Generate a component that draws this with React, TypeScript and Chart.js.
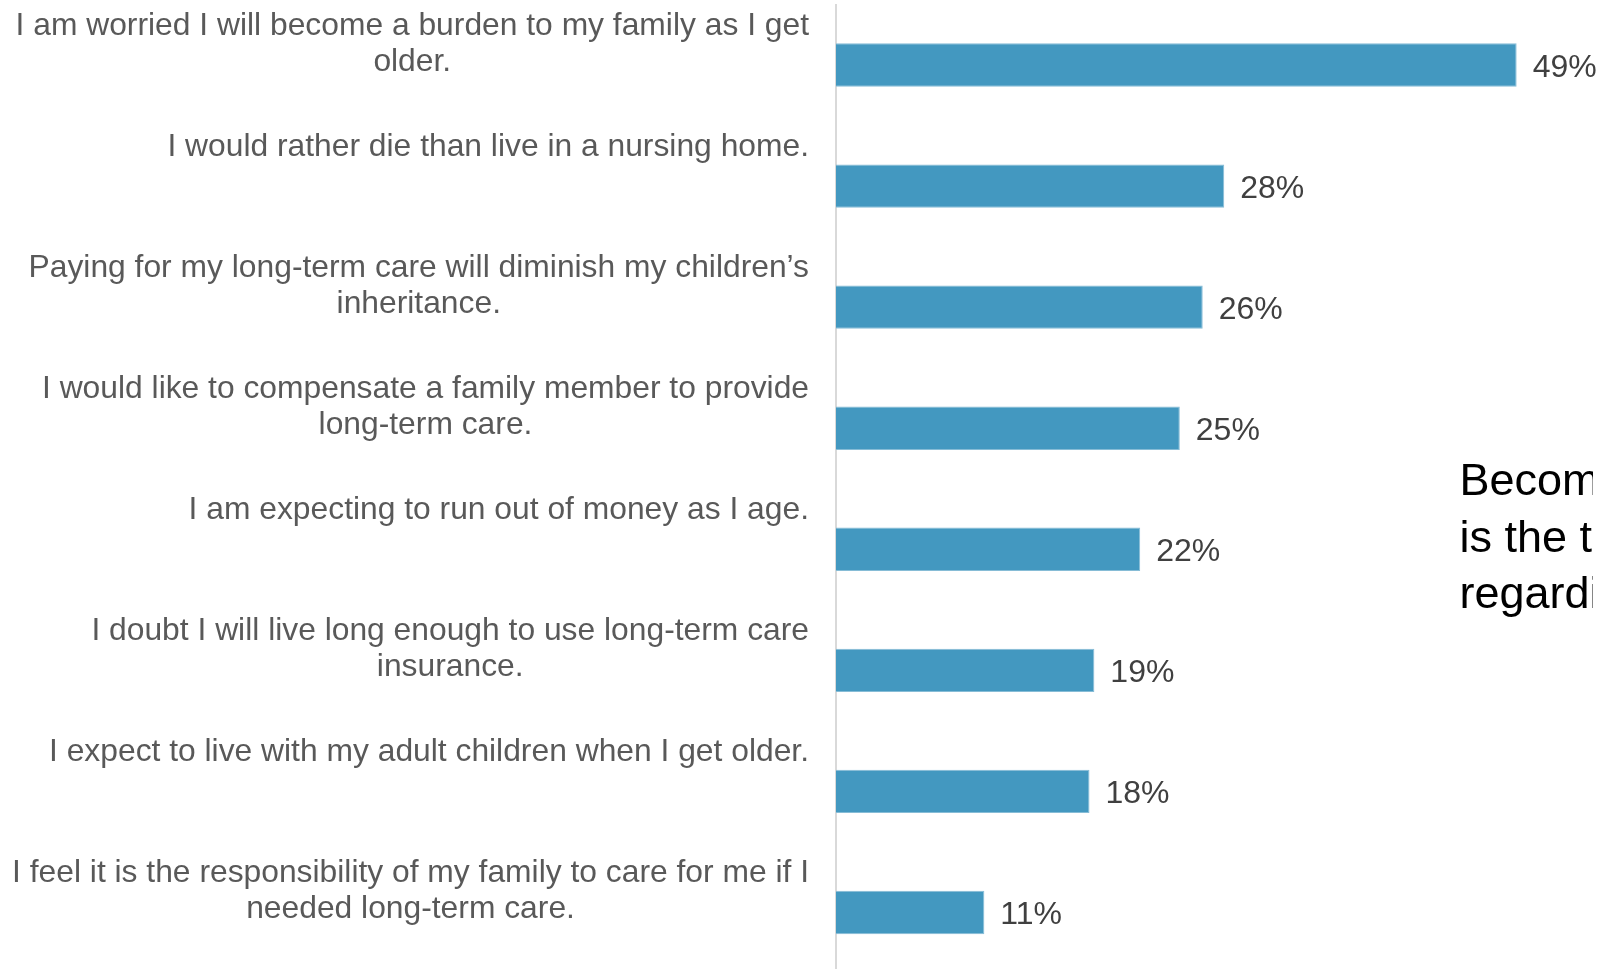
import React, { useEffect, useRef } from "react";
import { Chart, registerables } from "chart.js";

Chart.register(...registerables);

const categories: string[][] = [
  ["I am worried I will become a burden to my family as I get", "older."],
  ["I would rather die than live in a nursing home."],
  ["Paying for my long-term care will diminish my children\u2019s", "inheritance."],
  ["I would like to compensate a family member to provide", "long-term care."],
  ["I am expecting to run out of money as I age."],
  ["I doubt I will live long enough to use long-term care", "insurance."],
  ["I expect to live with my adult children when I get older."],
  ["I feel it is the responsibility of my family to care for me if I", "needed long-term care."],
];

const values: number[] = [49, 27.95, 26.4, 24.75, 21.9, 18.6, 18.25, 10.68];
const valueLabels: string[] = ["49%", "28%", "26%", "25%", "22%", "19%", "18%", "11%"];

const sideNote: string[] = ["Becoming a burden", "is the top concern", "regarding long-term care"];

const FONT = "'Liberation Sans', Arial, sans-serif";

const labelPlugin = {
  id: "customLabels",
  afterDraw(chart: any) {
    const ctx = chart.ctx as CanvasRenderingContext2D;
    const yScale = chart.scales.y;
    const xScale = chart.scales.x;
    const area = chart.chartArea;
    const band = (area.bottom - area.top) / categories.length;
    ctx.save();
    // category labels
    ctx.font = `31.8px ${FONT}`;
    ctx.fillStyle = "#595959";
    ctx.textBaseline = "alphabetic";
    ctx.textAlign = "center";
    const rightEdge = 809;
    categories.forEach((lines, i) => {
      const center = yScale.getPixelForValue(i);
      const top = center - band / 2;
      const maxW = Math.max(...lines.map((l) => ctx.measureText(l).width));
      const cx = rightEdge - maxW / 2;
      lines.forEach((l, j) => {
        ctx.fillText(l, cx, top + 30 + j * 36.5);
      });
    });
    // value labels
    ctx.font = `32px ${FONT}`;
    ctx.fillStyle = "#404040";
    ctx.textAlign = "left";
    values.forEach((v, i) => {
      const x = xScale.getPixelForValue(v);
      const y = yScale.getPixelForValue(i);
      ctx.fillText(valueLabels[i], x + 16, y + 11.5);
    });
    // side note (cut off at the right edge as in the source slide)
    ctx.beginPath();
    ctx.rect(0, 0, 1593, chart.height);
    ctx.clip();
    ctx.font = `45px ${FONT}`;
    ctx.fillStyle = "#000000";
    sideNote.forEach((l, j) => {
      ctx.fillText(l, 1459.5, 495 + j * 56.5);
    });
    ctx.restore();
  },
};

export default function App() {
  const ref = useRef<HTMLCanvasElement | null>(null);
  useEffect(() => {
    if (!ref.current) return;
    Chart.defaults.font.family = FONT;
    const chart = new Chart(ref.current, {
      type: "bar",
      data: {
        labels: categories.map((c) => c.join(" ")),
        datasets: [
          {
            data: values,
            backgroundColor: "#4398c0",
            borderColor: "#86bcd6",
            borderWidth: 1,
            barPercentage: 0.358,
            categoryPercentage: 1,
          },
        ],
      },
      options: {
        indexAxis: "y",
        animation: false,
        responsive: true,
        maintainAspectRatio: false,
        layout: { padding: { left: 836, right: 0, top: 4.5, bottom: 2 } },
        plugins: { legend: { display: false }, tooltip: { enabled: false } },
        scales: {
          x: { display: false, min: 0, max: 55 },
          y: {
            display: true,
            grid: { display: false },
            ticks: { display: false },
            border: { display: true, color: "#d9d9d9", width: 2 },
            afterFit: (scale: any) => {
              scale.width = 0;
            },
          },
        },
      },
      plugins: [labelPlugin],
    });
    return () => chart.destroy();
  }, []);
  return (
    <div style={{ position: "fixed", left: 0, top: 0, width: 1600, height: 969, overflow: "hidden", background: "#fff" }}>
      <div style={{ position: "relative", width: 1600, height: 975 }}>
        <canvas ref={ref} />
      </div>
    </div>
  );
}
